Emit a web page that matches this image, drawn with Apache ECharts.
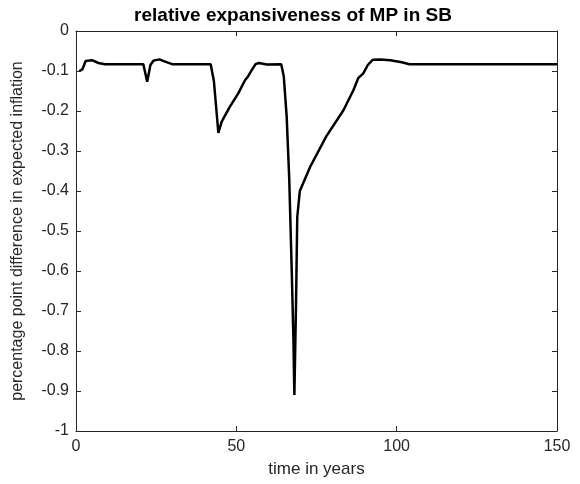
<!DOCTYPE html>
<html>
<head>
<meta charset="utf-8">
<script src="https://cdn.jsdelivr.net/npm/echarts@6/dist/echarts.min.js"></script>
<style>
  html, body { margin: 0; padding: 0; background: #fff; }
  #chart { width: 580px; height: 484px; }
</style>
</head>
<body>
<div id="chart"></div>
<script>
// time (years) and percentage point difference
const years = [1, 2, 3, 3.5, 5, 7, 9, 21, 22.2, 23.2, 24.2, 26, 28, 30,
  42, 43, 44.4, 45.4, 48, 50.6, 52.7, 53.7, 54.8, 56, 57, 59.5,
  64, 64.8, 65.7, 66.5, 67.3, 67.8, 68.1, 68.6, 69, 69.8, 73, 78, 83.4,
  86.5, 88, 89.6, 91, 92.5, 95, 98, 101.6, 104, 150]
const diff = [-0.1, -0.096, -0.075, -0.072, -0.073, -0.08, -0.083, -0.083, -0.127, -0.085, -0.074, -0.071, -0.077, -0.083,
  -0.083, -0.125, -0.255, -0.227, -0.189, -0.156, -0.123, -0.113, -0.098, -0.083, -0.08, -0.084,
  -0.083, -0.114, -0.214, -0.37, -0.606, -0.77, -0.91, -0.69, -0.465, -0.40, -0.34, -0.264, -0.198,
  -0.148, -0.118, -0.106, -0.085, -0.072, -0.071, -0.073, -0.078, -0.083, -0.083]

const xTicks = [0, 50, 100, 150]
const yTicks = [0, -0.1, -0.2, -0.3, -0.4, -0.5, -0.6, -0.7, -0.8, -0.9, -1]

const chart = echarts.init(document.getElementById('chart'))

const axisColor = '#262626'
const font = 'Liberation Sans, Arial, sans-serif'

// box around the axes, ticks pointing inwards
const boxAxis = {
  axisLine: { show: true, onZero: false, lineStyle: { color: axisColor, width: 1 } },
  axisTick: { show: true, inside: true, length: 5, lineStyle: { color: axisColor } },
  splitLine: { show: false }
}

chart.setOption({
  animation: false,
  title: {
    text: 'relative expansiveness of MP in SB',
    left: 288,
    top: 1,
    textAlign: 'center',
    textStyle: { fontFamily: font, fontSize: 19, fontWeight: 'bold', color: '#000' }
  },
  grid: { left: 76, right: 23, top: 31, bottom: 53 },
  xAxis: [{
    type: 'value',
    min: 0,
    max: 150,
    interval: 50,
    ...boxAxis,
    axisLabel: { color: axisColor, fontFamily: font, fontSize: 16, margin: 8,
      formatter: v => xTicks.includes(v) ? String(v) : '' },
    name: 'time in years',
    nameLocation: 'middle',
    nameGap: 30,
    nameTextStyle: { color: axisColor, fontFamily: font, fontSize: 17 }
  }, {
    type: 'value',
    position: 'top',
    min: 0,
    max: 150,
    interval: 50,
    ...boxAxis,
    axisLabel: { show: false }
  }],
  yAxis: [{
    type: 'value',
    min: -1,
    max: 0,
    interval: 0.1,
    ...boxAxis,
    axisLabel: { color: axisColor, fontFamily: font, fontSize: 16, margin: 7,
      formatter: v => {
        const r = Math.round(v * 10) / 10
        return yTicks.includes(r) ? String(r) : ''
      } },
    name: 'percentage point difference in expected inflation',
    nameLocation: 'middle',
    nameGap: 50,
    nameTextStyle: { color: axisColor, fontFamily: font, fontSize: 16 }
  }, {
    type: 'value',
    position: 'right',
    min: -1,
    max: 0,
    interval: 0.1,
    ...boxAxis,
    axisLabel: { show: false }
  }],
  series: [{
    type: 'line',
    data: years.map((t, i) => [t, diff[i]]),
    showSymbol: false,
    smooth: false,
    lineStyle: { color: '#000', width: 2.5 }
  }]
})
</script>
</body>
</html>
